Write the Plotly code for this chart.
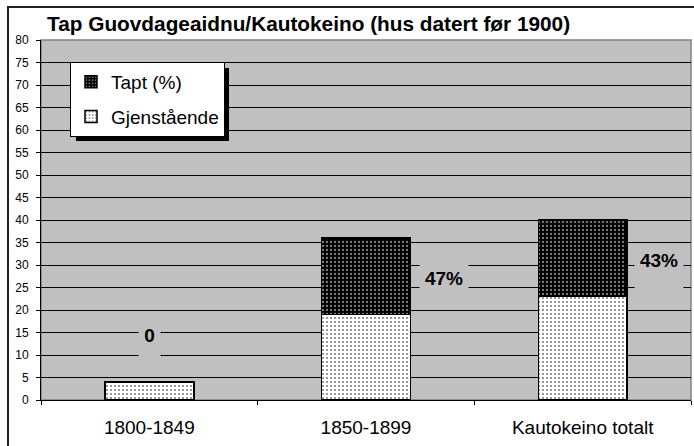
import plotly.graph_objects as go

# ---- data ----
categories = ["1800-1849", "1850-1899", "Kautokeino totalt"]
gjenstaende = [4, 19, 23]
tapt = [0, 17, 17]
label_texts = ["0", "47%", "43%"]

# ---- layout helpers (pixel geometry) ----
W, H = 694, 446
ML, MR, MT, MB = 41, 3, 40, 46
PW, PH = W - ML - MR, H - MT - MB

def px_x(p):
    return (p - ML) / PW

def px_y(p):
    return (H - MB - p) / PH

FONT = "Arial, Liberation Sans, sans-serif"

fig = go.Figure()
fig.add_trace(go.Bar(
    name="Gjenstående", x=categories, y=gjenstaende,
    marker=dict(color="white", line=dict(color="black", width=1.5),
                pattern=dict(shape=".", bgcolor="white", fgcolor="black", size=4, solidity=0.22)),
    legendgroup="g", legendrank=2,
))
fig.add_trace(go.Bar(
    name="Tapt (%)", x=categories, y=tapt,
    marker=dict(color="black", line=dict(color="black", width=1.5),
                pattern=dict(shape=".", bgcolor="black", fgcolor="white", size=4, solidity=0.25)),
    legendgroup="t", legendrank=1,
))

# label annotations (box position/size in layout units)
label_x = [0.0, 1.36, 2.35]
label_box_y = [13.1, 27.1, 29.1]
label_box_h = [32, 32, 38]
label_box_w = [21, 48, 48]
label_valign = ["top", "middle", "top"]
for t, lx, ly, h, w, va in zip(label_texts, label_x, label_box_y, label_box_h, label_box_w, label_valign):
    fig.add_annotation(x=lx, y=ly, xref="x", yref="y", text=f"<b>{t}</b>", showarrow=False,
                       font=dict(family=FONT, size=19, color="black"),
                       bgcolor="#c0c0c0", width=w, height=h, valign=va, borderpad=0)

# outer frame
fig.add_shape(type="rect", xref="paper", yref="paper",
              x0=px_x(8), x1=px_x(W + 10), y0=px_y(H + 10), y1=px_y(7),
              line=dict(color="#202020", width=2), fillcolor="rgba(0,0,0,0)", layer="above")
# plot area grey border
fig.add_shape(type="rect", xref="paper", yref="paper", x0=0, x1=1, y0=0, y1=1,
              line=dict(color="#808080", width=1.5), fillcolor="rgba(0,0,0,0)", layer="below")
# legend shadow
fig.add_shape(type="rect", xref="paper", yref="paper",
              x0=px_x(76), x1=px_x(229), y0=px_y(141), y1=px_y(68),
              line=dict(width=0), fillcolor="black", layer="above")

fig.update_layout(
    width=W, height=H,
    margin=dict(l=ML, r=MR, t=MT, b=MB, autoexpand=False),
    paper_bgcolor="white", plot_bgcolor="#c0c0c0",
    barmode="stack", bargap=0.59,
    font=dict(family=FONT, color="black"),
    title=dict(text="<b>Tap Guovdageaidnu/Kautokeino (hus datert før 1900)</b>",
               font=dict(family=FONT, size=20.8, color="black"),
               xref="paper", x=px_x(47), xanchor="left",
               yref="container", y=1 - 24 / H, yanchor="middle"),
    legend=dict(x=px_x(70), y=px_y(62), xanchor="left", yanchor="top",
                bgcolor="white", bordercolor="black", borderwidth=1,
                font=dict(family=FONT, size=19, color="black"),
                traceorder="grouped", tracegroupgap=7),
    showlegend=True,
)
fig.update_xaxes(type="category", tickson="boundaries", ticks="outside", ticklen=4,
                 tickcolor="black", showline=True, linecolor="black", linewidth=1,
                 showgrid=False, ticklabelstandoff=10, automargin=False,
                 tickfont=dict(family=FONT, size=19, color="black"))
fig.update_yaxes(range=[0, 80], dtick=5, tick0=0, ticks="outside", ticklen=4, tickcolor="black",
                 showline=True, linecolor="black", linewidth=1,
                 showgrid=True, gridcolor="black", gridwidth=1, zeroline=False,
                 ticklabelstandoff=5, automargin=False,
                 tickfont=dict(family=FONT, size=12, color="black"))

fig.write_html("out.html", config={"displayModeBar": False},
               post_script="document.body.style.margin='0';document.body.style.overflow='hidden';")
